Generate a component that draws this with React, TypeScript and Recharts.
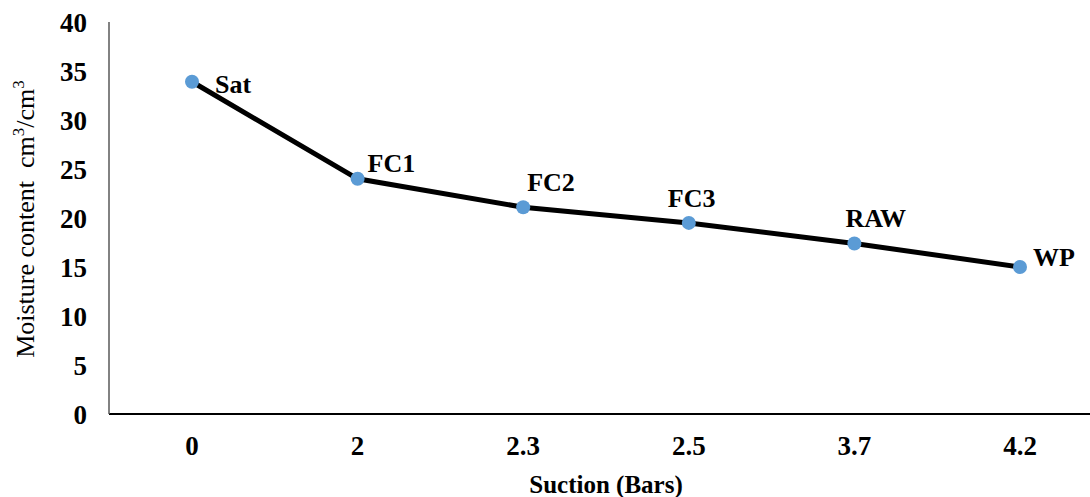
import React from 'react';
import { LineChart, Line, XAxis, YAxis, LabelList } from 'recharts';

// values
const suction = ['0', '2', '2.3', '2.5', '3.7', '4.2'];
const moisture = [33.9, 24.0, 21.1, 19.5, 17.4, 15.0];
const stages = ['Sat', 'FC1', 'FC2', 'FC3', 'RAW', 'WP'];
const yTicks = [0, 5, 10, 15, 20, 25, 30, 35, 40];

const data = suction.map((s, i) => ({ suction: s, moisture: moisture[i], stage: stages[i] }));

// where each point label sits relative to its dot (text start, vertical centre)
const labelOffsets: [number, number][] = [
  [23, 2],
  [10, -16],
  [4, -25],
  [-21, -25],
  [-9, -26],
  [13, -10],
];

const serif = "'Liberation Serif', 'DejaVu Serif', serif";

function PointLabel(props: any) {
  const { x, y, value, index } = props;
  const [dx, dy] = labelOffsets[index] || [0, 0];
  return (
    <text
      x={x + dx}
      y={y + dy}
      dy="0.35em"
      textAnchor="start"
      style={{ fontFamily: serif, fontWeight: 700, fontSize: 26 }}
      fill="#000"
    >
      {value}
    </text>
  );
}

const tickStyle = { fill: '#000', fontSize: 27, fontWeight: 700, style: { fontFamily: serif } };

export default function App() {
  return (
    <div
      style={{
        position: 'absolute',
        left: 0,
        top: 0,
        width: 1090,
        height: 497,
        overflow: 'hidden',
        background: '#fff',
        fontFamily: serif,
      }}
    >
      <LineChart
        width={1100}
        height={497}
        data={data}
        margin={{ top: 22, right: 0, bottom: 0, left: 0 }}
        style={{ fontFamily: serif }}
      >
        <XAxis
          dataKey="suction"
          height={83}
          padding={{ left: 83, right: 80 }}
          axisLine={{ stroke: '#000', strokeWidth: 2 }}
          tickLine={false}
          tickSize={0}
          tickMargin={22}
          tick={tickStyle}
        />
        <YAxis
          width={109}
          domain={[0, 40]}
          ticks={yTicks}
          interval={0}
          axisLine={{ stroke: '#595959', strokeWidth: 1.5 }}
          tickLine={false}
          tickSize={0}
          tickMargin={22}
          tick={tickStyle}
        />
        <Line
          type="linear"
          dataKey="moisture"
          stroke="#000"
          strokeWidth={5}
          dot={{ r: 7, fill: '#5B9BD5', stroke: 'none' }}
          activeDot={false}
          isAnimationActive={false}
        >
          <LabelList dataKey="stage" content={PointLabel} />
        </Line>
        <text
          x={606}
          y={484}
          dy="0.35em"
          textAnchor="middle"
          style={{ fontFamily: serif, fontWeight: 700, fontSize: 25 }}
          fill="#000"
        >
          Suction (Bars)
        </text>
        <text
          x={25}
          y={219}
          dy="0.35em"
          textAnchor="middle"
          transform="rotate(-90 25 219)"
          style={{ fontFamily: serif, fontSize: 26 }}
          fill="#000"
        >
          {'Moisture content\u00a0 cm'}
          <tspan dy={-10} fontSize={17}>3</tspan>
          <tspan dy={10}>/cm</tspan>
          <tspan dy={-10} fontSize={17}>3</tspan>
        </text>
      </LineChart>
    </div>
  );
}
